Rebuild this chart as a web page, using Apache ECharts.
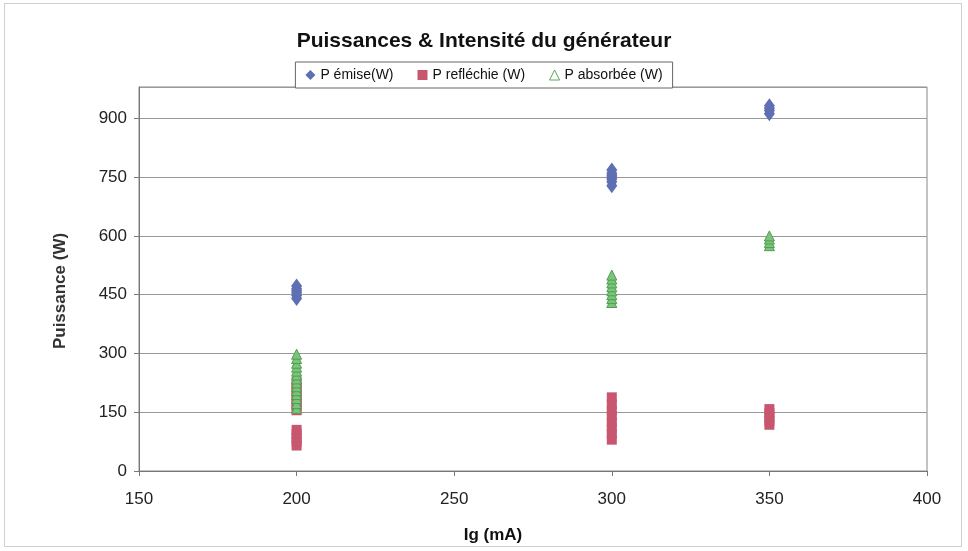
<!DOCTYPE html>
<html><head><meta charset="utf-8">
<script src="https://cdn.jsdelivr.net/npm/echarts@6/dist/echarts.min.js"></script>
<style>
html,body{margin:0;padding:0;background:#fff;}
#frame{position:absolute;left:4px;top:3px;width:958px;height:544px;border:1px solid #d0d0d0;box-sizing:border-box;}
#c{position:absolute;left:0;top:0;width:968px;height:551px;}
</style></head>
<body><div id="frame"></div><div id="c"></div>
<script>
const title = 'Puissances & Intensité du générateur';
const seriesNames = ['P émise(W)', 'P refléchie (W)', 'P absorbée (W)'];
const xTicks = [150, 200, 250, 300, 350, 400];
const yTicks = [0, 150, 300, 450, 600, 750, 900];
// currents (mA) and measured powers (W)
const emiseX = [200, 200, 200, 200, 200, 200, 300, 300, 300, 300, 300, 300, 300, 350, 350, 350, 350];
const emiseY = [440, 448, 455, 460, 465, 472, 728, 738, 745, 750, 755, 760, 768, 912, 920, 926, 932];
const reflX = [200, 200, 200, 200, 200, 200, 200, 200, 200, 200, 200, 200, 200, 300, 300, 300, 300, 300, 300, 300, 300, 350, 350, 350, 350, 350];
const reflY = [65, 75, 85, 95, 105, 155, 165, 175, 185, 195, 205, 215, 228, 80, 95, 110, 125, 140, 155, 170, 188, 118, 128, 138, 148, 158];
const absX = [200, 200, 200, 200, 200, 200, 200, 200, 200, 200, 200, 200, 200, 200, 300, 300, 300, 300, 300, 300, 300, 300, 350, 350, 350, 350];
const absY = [160, 172, 185, 195, 205, 215, 225, 235, 245, 255, 265, 275, 287, 298, 430, 440, 450, 460, 470, 480, 490, 500, 575, 583, 592, 600];

function pairs(xs, ys){ return xs.map((x,i)=>[x, ys[i]]); }

const chart = echarts.init(document.getElementById('c'), null, {renderer:'canvas'});
const font = 'Liberation Sans, Arial, sans-serif';
chart.setOption({
  animation:false,
  backgroundColor:'transparent',
  textStyle:{fontFamily:font},
  title:{text:title, left:'center', top:26, itemGap:0,
    textStyle:{fontSize:21, fontWeight:'bold', color:'#111', fontFamily:font}},
  legend:{
    top:62, left:'center', itemWidth:10, itemHeight:10, itemGap:24,
    padding:[6,10,6,10], borderColor:'#666', borderWidth:1, backgroundColor:'#fff',
    textStyle:{fontSize:14, color:'#111', fontFamily:font},
    data:[
      {name:seriesNames[0], icon:'diamond', itemStyle:{color:'#5f6fb3'}},
      {name:seriesNames[1], icon:'rect', itemStyle:{color:'#c8566f'}},
      {name:seriesNames[2], icon:'triangle', itemStyle:{color:'#fff', borderColor:'#5aa85a', borderWidth:1}}
    ]
  },
  grid:{left:139, right:41, top:87, bottom:80, show:true, borderColor:'#888', borderWidth:1, backgroundColor:'#fff'},
  xAxis:{
    type:'value', min:xTicks[0], max:xTicks[xTicks.length-1], interval:50,
    name:'Ig (mA)', nameLocation:'middle', nameGap:56,
    nameTextStyle:{fontSize:17, fontWeight:'bold', color:'#111', fontFamily:font, padding:[0,80,0,0]},
    axisLine:{show:true, lineStyle:{color:'#777'}},
    axisTick:{show:true, inside:false, length:5, lineStyle:{color:'#777'}},
    axisLabel:{fontSize:17, color:'#222', margin:20, fontFamily:font},
    splitLine:{show:false}
  },
  yAxis:{
    type:'value', min:0, max:980, interval:150,
    name:'Puissance (W)', nameLocation:'middle', nameGap:70, nameRotate:90,
    nameTextStyle:{fontSize:17, fontWeight:'bold', color:'#333', fontFamily:font, padding:[0,24,0,0]},
    axisLine:{show:true, lineStyle:{color:'#777'}},
    axisTick:{show:true, length:5, lineStyle:{color:'#777'}},
    axisLabel:{fontSize:17, color:'#222', margin:12, fontFamily:font, showMaxLabel:false,
      formatter:v=> yTicks.indexOf(v) >= 0 ? String(v) : ''},
    splitLine:{show:true, lineStyle:{color:'#999', width:1}}
  },
  series:[
    {name:seriesNames[0], type:'scatter', symbol:'diamond', symbolSize:[11,15],
     itemStyle:{color:'#5f6fb3', opacity:1}, data:pairs(emiseX, emiseY), z:3},
    {name:seriesNames[1], type:'scatter', symbol:'rect', symbolSize:[10,10],
     itemStyle:{color:'#c8566f', opacity:1}, data:pairs(reflX, reflY), z:2},
    {name:seriesNames[2], type:'scatter', symbol:'triangle', symbolSize:[10,10],
     itemStyle:{color:'#7cc47c', borderColor:'#4f9f4f', borderWidth:1, opacity:1}, data:pairs(absX, absY), z:4}
  ]
});
</script></body></html>
